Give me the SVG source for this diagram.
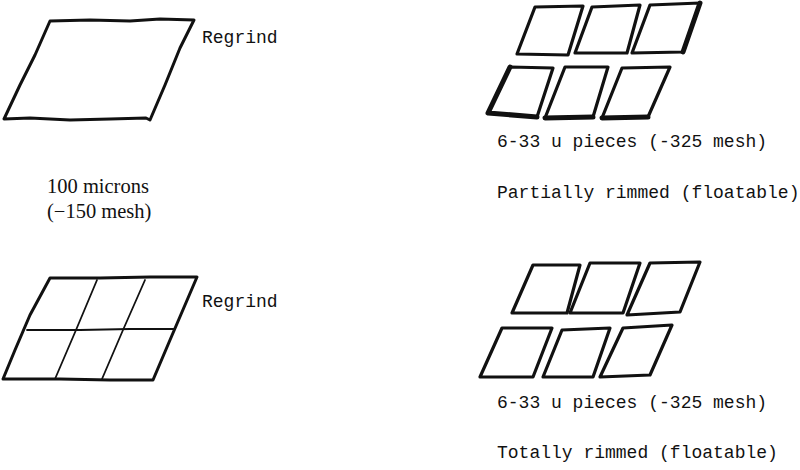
<svg xmlns="http://www.w3.org/2000/svg" width="800" height="470" viewBox="0 0 800 470">
<style>
.big{fill:none;stroke:#111;stroke-width:3;stroke-linejoin:round;stroke-linecap:round}
.grid{fill:none;stroke:#111;stroke-width:1.8;stroke-linecap:round}
.pc{fill:none;stroke:#111;stroke-width:3.2;stroke-linejoin:round;stroke-linecap:round}
.rim{fill:none;stroke:#111;stroke-width:5;stroke-linecap:round;stroke-linejoin:round}
.mono{font-family:"Liberation Mono","DejaVu Sans Mono",monospace;font-size:18px;fill:#111}
.serif{font-family:"Liberation Serif","Times New Roman",serif;font-size:20.5px;fill:#111}
</style>
<rect width="800" height="470" fill="#fff"/>

<g id="regrind-top">
<path class="big" d="M50,21 L90,20 L130,21 L160,19 L194,20 L180,48 L165,85 L150,120 L146,118 L110,119 L70,120 L30,118 L4,119 L20,85 L35,55 Z"/>
<text class="mono" x="202" y="43">Regrind</text>
</g>

<g id="size-label">
<text class="serif" x="47" y="193">100 microns</text>
<text class="serif" x="47" y="218">(−150 mesh)</text>
</g>

<g id="regrind-bottom">
<path class="big" d="M50,278 L100,278 L150,277 L197,277 L185,305 L170,340 L153,380 L110,380 L60,379 L3,379 L15,350 L30,315 Z"/>
<path class="grid" d="M27,330 L80,330 L130,329 L175,329"/>
<path class="grid" d="M97,280 L76,330 L55,379"/>
<path class="grid" d="M145,280 L123,330 L102,379"/>
<text class="mono" x="202" y="307">Regrind</text>
</g>

<g id="partially-rimmed">
<path class="pc" d="M535,7 L583,6 L568,55 L517,54 Z"/>
<path class="pc" d="M592,7 L640,5 L627,53 L575,53 Z"/>
<path class="pc" d="M650,5 L700,3 L683,52 L632,53 Z"/>
<path class="pc" d="M510,67 L553,68 L537,117 L488,113 Z"/>
<path class="pc" d="M565,67 L608,67 L593,117 L545,118 Z"/>
<path class="pc" d="M622,68 L670,67 L648,117 L602,118 Z"/>
<path class="rim" d="M510,67 L488,113 L537,117"/>
<path class="rim" d="M545,118 L593,117"/>
<path class="rim" d="M602,118 L648,117"/>
<path class="rim" d="M700,3 L683,52"/>
<text class="mono" x="497" y="147">6-33 u pieces (-325 mesh)</text>
<text class="mono" x="497" y="198">Partially rimmed (floatable)</text>
</g>

<g id="totally-rimmed">
<path class="pc" d="M533,265 L580,265 L567,313 L512,313 Z"/>
<path class="pc" d="M590,263 L640,263 L623,313 L570,313 Z"/>
<path class="pc" d="M650,263 L700,262 L680,312 L627,315 Z"/>
<path class="pc" d="M502,328 L552,328 L533,377 L480,377 Z"/>
<path class="pc" d="M562,330 L610,328 L593,377 L543,377 Z"/>
<path class="pc" d="M623,328 L672,325 L650,375 L600,377 Z"/>
<text class="mono" x="497" y="408">6-33 u pieces (-325 mesh)</text>
<text class="mono" x="497" y="458">Totally rimmed (floatable)</text>
</g>
</svg>
